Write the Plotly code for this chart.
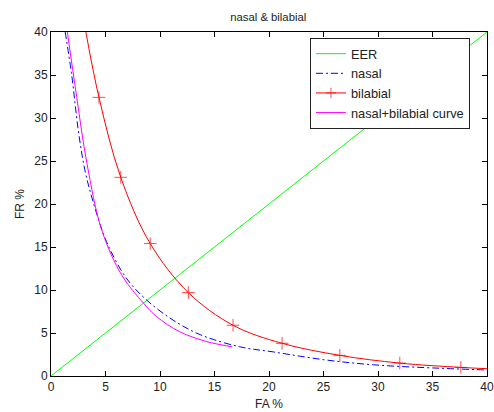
import plotly.graph_objects as go

# EER diagonal
eer_x = [0, 40]
eer_y = [0, 40]

# nasal (blue dash-dot)
nasal_x = [1.3, 1.9, 2.5, 3.1, 3.9, 5.1, 6.9, 8.8, 11.2, 13.7, 17.3, 20.4, 25.0, 29.6, 35.7, 40.0]
nasal_y = [40.0, 35.0, 28.6, 24.0, 20.1, 15.6, 11.4, 8.8, 6.5, 4.8, 3.4, 2.8, 1.9, 1.3, 0.9, 0.7]

# bilabial (red with + markers)
bil_x = [3.2, 4.4, 6.4, 9.1, 12.6, 16.7, 21.2, 26.5, 32.0, 37.6, 40.0]
bil_y = [40.0, 32.4, 23.1, 15.4, 9.7, 5.9, 3.8, 2.4, 1.5, 1.0, 0.85]
bil_marker = [0, 1, 1, 1, 1, 1, 1, 1, 1, 1, 0]

# nasal+bilabial curve (magenta)
curve_x = [1.5, 2.35, 3.3, 4.65, 6.5, 8.5, 9.7, 11.8, 14.3, 16.6]
curve_y = [40.0, 32.5, 24.7, 17.0, 11.7, 8.45, 6.9, 5.15, 4.0, 3.4]

ticks = [0, 5, 10, 15, 20, 25, 30, 35, 40]

fig = go.Figure()
fig.add_trace(go.Scatter(x=eer_x, y=eer_y, mode="lines", name="EER",
                         line=dict(color="#00ff00", width=1)))
fig.add_trace(go.Scatter(x=nasal_x, y=nasal_y, mode="lines", name="nasal",
                         line=dict(color="#0000ff", width=1, dash="7px,3px,2px,3px", shape="spline")))
fig.add_trace(go.Scatter(x=bil_x, y=bil_y, mode="lines+markers", name="bilabial",
                         line=dict(color="#ff0000", width=1, shape="spline"),
                         marker=dict(symbol="cross-thin", size=[9 * m for m in bil_marker],
                                     line=dict(color="#ff0000", width=1), color="#ff0000")))
fig.add_trace(go.Scatter(x=curve_x, y=curve_y, mode="lines", name="nasal+bilabial curve",
                         line=dict(color="#ff00ff", width=1, shape="spline")))

axis_common = dict(range=[0, 40], tickvals=ticks, ticks="inside", ticklen=5,
                   showline=True, linecolor="black", linewidth=1, mirror="ticks",
                   showgrid=False, zeroline=False, tickcolor="black", automargin=False,
                   tickfont=dict(size=12, color="#222222"))

fig.update_layout(
    width=494, height=412,
    margin=dict(l=51, r=7, t=32, b=36),
    paper_bgcolor="white", plot_bgcolor="white",
    font=dict(family="Liberation Sans, Arial, sans-serif", size=12, color="#222222"),
    title=dict(text="nasal & bilabial", x=0.543, xanchor="center", y=0.958, yanchor="middle",
               font=dict(size=11.3)),
    xaxis=dict(title=dict(text="FA %", standoff=6, font=dict(size=12)), **axis_common),
    yaxis=dict(title=dict(text="FR %", standoff=7, font=dict(size=12)), **axis_common),
    legend=dict(x=0.594, y=0.983, xanchor="left", yanchor="top",
                bordercolor="#222222", borderwidth=1, bgcolor="white",
                font=dict(size=12.8), tracegroupgap=0),
    showlegend=True,
)

fig.write_html(
    "out.html",
    config={"displayModeBar": False},
    post_script="document.body.style.margin='0';document.body.style.overflow='hidden';",
)
